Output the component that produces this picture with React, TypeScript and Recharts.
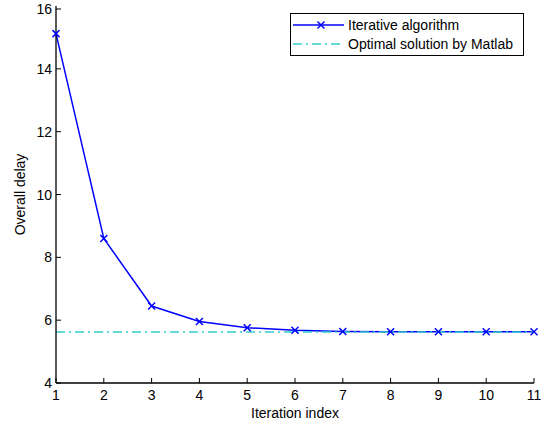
import { LineChart, Line, XAxis, YAxis, Legend } from 'recharts';

const iterations = [1, 2, 3, 4, 5, 6, 7, 8, 9, 10, 11];
const overallDelay = [15.12, 8.6, 6.45, 5.96, 5.76, 5.68, 5.64, 5.63, 5.63, 5.63, 5.63];
const optimalDelay = 5.62;
const yTicks = [4, 6, 8, 10, 12, 14, 16];
const seriesNames = ['Iterative algorithm', 'Optimal solution by Matlab'];

const data = iterations.map((it, i) => ({
  iter: it,
  iterative: overallDelay[i],
  optimal: optimalDelay,
}));

const FONT = '"Liberation Sans", Arial, sans-serif';
const BLUE = '#0000ff';
const CYAN = '#33cccc';
const AXIS = { stroke: '#000', strokeWidth: 1.3 };

const XMark = (props: any) => {
  const { cx, cy } = props;
  if (cx == null || cy == null) return null;
  const s = 3.5;
  return (
    <g stroke={BLUE} strokeWidth={1.5}>
      <line x1={cx - s} y1={cy - s} x2={cx + s} y2={cy + s} />
      <line x1={cx - s} y1={cy + s} x2={cx + s} y2={cy - s} />
    </g>
  );
};

const BottomTick = ({ x, y, payload }: any) => (
  <g>
    <line x1={x} y1={y} x2={x} y2={y - 5} stroke="#000" />
    <text x={x} y={y + 17} textAnchor="middle" fontSize={14} fontFamily={FONT} fill="#000">
      {payload.value}
    </text>
  </g>
);

const TopTick = ({ x, y }: any) => <line x1={x} y1={y} x2={x} y2={y + 5} stroke="#000" />;

const LeftTick = ({ x, y, payload }: any) => (
  <g>
    <line x1={x} y1={y} x2={x + 5} y2={y} stroke="#000" />
    <text x={x - 4} y={y} dy="0.36em" textAnchor="end" fontSize={14} fontFamily={FONT} fill="#000">
      {payload.value}
    </text>
  </g>
);

const RightTick = ({ x, y }: any) => <line x1={x} y1={y} x2={x - 5} y2={y} stroke="#000" />;

const LegendBox = () => (
  <div
    style={{
      border: '1.3px solid #000',
      background: '#fff',
      fontFamily: FONT,
      fontSize: 14,
      padding: '2px 0',
      lineHeight: '18.5px',
      boxSizing: 'border-box',
      color: '#000',
    }}
  >
    {seriesNames.map((name, i) => (
      <div key={name} style={{ display: 'flex', alignItems: 'center', whiteSpace: 'nowrap' }}>
        <svg width={57} height={18} style={{ display: 'block' }}>
          {i === 0 ? (
            <g stroke={BLUE} strokeWidth={1.5}>
              <line x1={2} y1={9} x2={53} y2={9} />
              <line x1={26.5} y1={5.5} x2={33.5} y2={12.5} />
              <line x1={26.5} y1={12.5} x2={33.5} y2={5.5} />
            </g>
          ) : (
            <line x1={2} y1={9} x2={53} y2={9} stroke={CYAN} strokeWidth={1.5} strokeDasharray="9 4 2 4" />
          )}
        </svg>
        <span>{name}</span>
      </div>
    ))}
  </div>
);

export default function App() {
  return (
    <div style={{ position: 'absolute', left: 0, top: 0 }}>
      <LineChart width={546} height={426} data={data} margin={{ top: 6, right: 12, left: 0, bottom: 0 }}>
        <XAxis
          xAxisId="b"
          dataKey="iter"
          type="number"
          domain={[1, 11]}
          ticks={iterations}
          height={43}
          tickSize={0}
          tickMargin={0}
          tick={<BottomTick />}
          axisLine={AXIS}
          label={{ value: 'Iteration index', position: 'insideBottom', offset: 8, fontSize: 14, fontFamily: FONT, fill: '#000' }}
        />
        <XAxis
          xAxisId="t"
          orientation="top"
          dataKey="iter"
          type="number"
          domain={[1, 11]}
          ticks={iterations}
          height={0}
          tickSize={0}
          tick={<TopTick />}
          axisLine={AXIS}
        />
        <YAxis
          yAxisId="l"
          type="number"
          domain={[4, 16]}
          ticks={yTicks}
          width={56}
          tickSize={0}
          tickMargin={0}
          tick={<LeftTick />}
          axisLine={AXIS}
          label={{ value: 'Overall delay', angle: -90, position: 'insideLeft', offset: 0, dx: 20, fontSize: 14, fontFamily: FONT, fill: '#000', style: { textAnchor: 'middle' } }}
        />
        <YAxis
          yAxisId="r"
          orientation="right"
          type="number"
          domain={[4, 16]}
          ticks={yTicks}
          width={0}
          tickSize={0}
          tick={<RightTick />}
          axisLine={AXIS}
        />
        <Legend
          layout="vertical"
          align="center"
          verticalAlign="middle"
          content={<LegendBox />}
          wrapperStyle={{ position: 'absolute', left: 290, top: 13, width: 234, height: 42 }}
        />
        <Line
          xAxisId="b"
          yAxisId="l"
          dataKey="iterative"
          name={seriesNames[0]}
          stroke={BLUE}
          strokeWidth={1.5}
          dot={<XMark />}
          activeDot={false}
          isAnimationActive={false}
        />
        <Line
          xAxisId="b"
          yAxisId="l"
          dataKey="optimal"
          name={seriesNames[1]}
          stroke={CYAN}
          strokeWidth={1.5}
          strokeDasharray="9 4 2 4"
          dot={false}
          activeDot={false}
          isAnimationActive={false}
        />
      </LineChart>
    </div>
  );
}
